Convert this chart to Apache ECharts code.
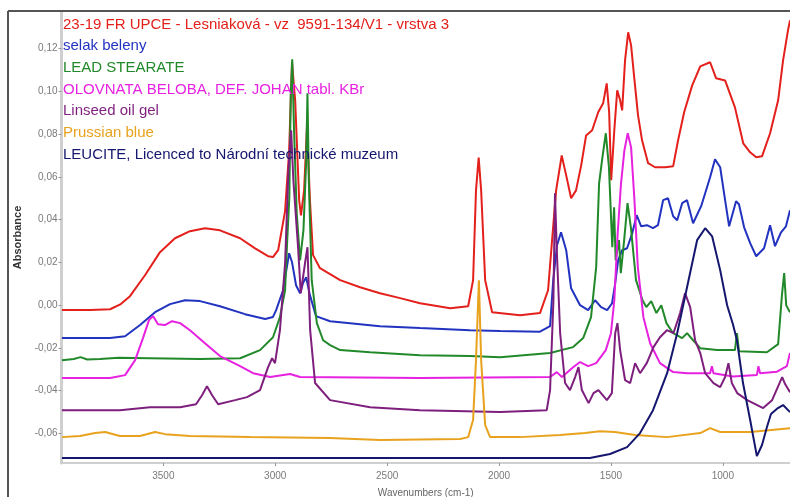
<!DOCTYPE html>
<html>
<head>
<meta charset="utf-8">
<script src="https://cdn.jsdelivr.net/npm/echarts@6/dist/echarts.min.js"></script>
<style>
html,body{margin:0;padding:0;background:#fff;}
#chart{width:790px;height:497px;}
</style>
</head>
<body>
<div id="chart"></div>
<script>
// ---- data: [wavenumber (cm-1), absorbance] ----
const seriesNames = [
  '23-19 FR UPCE - Lesniaková - vz  9591-134/V1 - vrstva 3',
  'selak beleny',
  'LEAD STEARATE',
  'OLOVNATA BELOBA, DEF. JOHAN tabl. KBr',
  'Linseed oil gel',
  'Prussian blue',
  'LEUCITE, Licenced to Národní technické muzeum'
];
const seriesColors = ['#e3201b', '#2233c0', '#22892a', '#e622e0', '#7e1f7e', '#e8a21e', '#15166e'];

const redSpectrum = [[3953,-0.0023],[3828,-0.0023],[3738,-0.0019],[3690,0.0005],[3649,0.0042],[3582,0.014],[3515,0.0248],[3448,0.0313],[3381,0.0346],[3314,0.036],[3247,0.035],[3157,0.0313],[3090,0.0266],[3032,0.0229],[3010,0.0225],[2987,0.0257],[2956,0.044],[2938,0.072],[2925,0.1136],[2911,0.0958],[2893,0.049],[2885,0.042],[2871,0.0537],[2858,0.084],[2845,0.049],[2831,0.0234],[2800,0.0173],[2710,0.0117],[2621,0.0084],[2532,0.0056],[2442,0.0033],[2353,0.0009],[2218,-0.0014],[2138,-0.0005],[2116,0.0117],[2103,0.0537],[2091,0.069],[2080,0.0537],[2062,0.0117],[2031,-0.0033],[1906,-0.0047],[1817,-0.0037],[1781,0.007],[1763,0.0304],[1745,0.0537],[1720,0.07],[1700,0.0607],[1678,0.05],[1656,0.0537],[1633,0.0654],[1611,0.0794],[1584,0.0818],[1557,0.0902],[1535,0.0944],[1519,0.1037],[1508,0.0902],[1499,0.0584],[1485,0.0818],[1472,0.1005],[1459,0.0958],[1450,0.0911],[1437,0.1145],[1423,0.1276],[1410,0.1215],[1397,0.1075],[1379,0.0888],[1361,0.0771],[1334,0.0664],[1303,0.0645],[1258,0.0645],[1222,0.065],[1200,0.0771],[1173,0.0902],[1137,0.1028],[1101,0.1117],[1057,0.1136],[1030,0.1061],[990,0.1051],[946,0.0925],[909,0.0757],[878,0.0715],[851,0.0692],[825,0.0696],[789,0.0804],[753,0.0958],[731,0.1145],[709,0.1285],[700,0.1332]];

const blueSpectrum = [[3953,-0.0154],[3738,-0.0154],[3671,-0.0145],[3604,-0.0093],[3537,-0.0033],[3470,0.0005],[3403,0.0023],[3336,0.0019],[3247,-0.0005],[3135,-0.0042],[3045,-0.0065],[3010,-0.0055],[2996,-0.0023],[2965,0.007],[2938,0.0243],[2925,0.0201],[2907,0.0093],[2889,0.0056],[2876,0.0103],[2862,0.0131],[2845,0.0047],[2818,-0.0051],[2755,-0.0075],[2532,-0.0098],[2353,-0.0107],[2130,-0.0117],[1995,-0.0121],[1817,-0.0124],[1772,-0.0098],[1758,0.0117],[1741,0.028],[1723,0.0341],[1700,0.0257],[1678,0.0079],[1638,0],[1602,-0.0023],[1571,0.0023],[1544,-0.0009],[1517,-0.0023],[1495,0.0009],[1481,0.0103],[1468,0.021],[1450,0.0257],[1428,0.0266],[1405,0.0336],[1385,0.0421],[1365,0.0369],[1339,0.0374],[1312,0.036],[1290,0.0374],[1267,0.0491],[1245,0.05],[1222,0.0416],[1204,0.0397],[1182,0.0477],[1160,0.0491],[1133,0.0383],[1097,0.0463],[1057,0.0598],[1035,0.0682],[1012,0.0645],[990,0.0491],[972,0.0369],[941,0.0486],[928,0.0472],[905,0.0364],[878,0.029],[851,0.0229],[816,0.0266],[789,0.0374],[767,0.0276],[740,0.0341],[718,0.0369],[700,0.0444]];

const greenSpectrum = [[3953,-0.0257],[3900,-0.0252],[3870,-0.0243],[3840,-0.0254],[3783,-0.0252],[3700,-0.0246],[3560,-0.0248],[3336,-0.0252],[3157,-0.0248],[3068,-0.021],[3010,-0.015],[2979,-0.0056],[2956,0.007],[2947,0.029],[2937,0.0505],[2931,0.0972],[2924,0.115],[2916,0.0818],[2904,0.043],[2889,0.021],[2874,0.035],[2862,0.0664],[2856,0.0991],[2850,0.0584],[2837,0.0117],[2814,-0.0084],[2786,-0.0164],[2755,-0.0187],[2710,-0.021],[2576,-0.022],[2353,-0.0234],[2130,-0.0238],[1995,-0.0243],[1772,-0.0224],[1669,-0.0196],[1624,-0.0154],[1589,-0.0056],[1566,0.0178],[1553,0.057],[1538,0.0692],[1523,0.0804],[1509,0.0645],[1494,0.0271],[1486,0.0458],[1479,0.021],[1464,0.0304],[1456,0.015],[1441,0.0304],[1426,0.0477],[1411,0.0364],[1388,0.0117],[1359,0.0023],[1342,-0.0009],[1320,0.0019],[1297,-0.0037],[1275,0],[1252,-0.0084],[1222,-0.0131],[1182,-0.0154],[1160,-0.0131],[1133,-0.0164],[1101,-0.0201],[1026,-0.021],[946,-0.021],[937,-0.0131],[928,-0.0215],[803,-0.022],[753,-0.0182],[736,0.0047],[726,0.015],[717,0],[700,-0.0033]];

const magentaSpectrum = [[3953,-0.0341],[3738,-0.0341],[3671,-0.0327],[3626,-0.0257],[3591,-0.0154],[3564,-0.007],[3546,-0.0051],[3524,-0.0089],[3493,-0.0093],[3461,-0.0075],[3425,-0.0084],[3381,-0.0117],[3314,-0.0178],[3247,-0.0238],[3157,-0.0285],[3099,-0.0318],[3023,-0.0336],[2934,-0.0322],[2889,-0.0336],[2353,-0.0341],[1772,-0.0336],[1742,-0.0313],[1719,-0.0336],[1669,-0.029],[1638,-0.0266],[1602,-0.0285],[1566,-0.0271],[1523,-0.021],[1500,-0.0131],[1485,0.0023],[1470,0.0336],[1455,0.057],[1440,0.0724],[1425,0.0804],[1410,0.0738],[1395,0.0491],[1380,0.0178],[1355,-0.0056],[1325,-0.0178],[1281,-0.0271],[1222,-0.0313],[1160,-0.0318],[1057,-0.0318],[1049,-0.0285],[1042,-0.0318],[955,-0.0334],[848,-0.0327],[841,-0.0285],[834,-0.0318],[758,-0.0311],[714,-0.0285],[700,-0.0224]];

const purpleSpectrum = [[3953,-0.0491],[3694,-0.0491],[3560,-0.0477],[3425,-0.0477],[3354,-0.0463],[3327,-0.0421],[3305,-0.0379],[3282,-0.0421],[3255,-0.0463],[3179,-0.0444],[3126,-0.043],[3068,-0.0397],[3032,-0.029],[3014,-0.0248],[3001,-0.0271],[2979,-0.0117],[2956,0.0196],[2941,0.0631],[2929,0.0818],[2919,0.0584],[2898,0.0271],[2886,0.0056],[2867,0.0196],[2856,0.0271],[2844,-0.0117],[2822,-0.0364],[2755,-0.0444],[2576,-0.0477],[2353,-0.0491],[1995,-0.05],[1787,-0.0491],[1772,-0.0397],[1757,0.0023],[1750,0.0523],[1742,0.0257],[1727,-0.0131],[1705,-0.0364],[1683,-0.0397],[1660,-0.0336],[1645,-0.029],[1630,-0.0397],[1600,-0.0458],[1578,-0.0411],[1556,-0.0397],[1518,-0.0444],[1496,-0.0411],[1481,-0.0131],[1471,-0.0084],[1459,-0.021],[1437,-0.035],[1414,-0.0364],[1392,-0.0271],[1370,-0.0318],[1340,-0.0271],[1310,-0.0196],[1281,-0.015],[1250,-0.0117],[1221,-0.0131],[1191,-0.0037],[1169,0.0056],[1146,-0.0009],[1124,-0.0164],[1101,-0.0224],[1079,-0.0318],[1042,-0.0364],[1012,-0.0383],[990,-0.0336],[975,-0.0271],[960,-0.0364],[936,-0.0411],[891,-0.0444],[820,-0.0481],[780,-0.0444],[735,-0.0336],[722,-0.0369],[700,-0.0407]];

const orangeSpectrum = [[3953,-0.0617],[3872,-0.0612],[3805,-0.0598],[3760,-0.0593],[3694,-0.0612],[3604,-0.0612],[3537,-0.0593],[3492,-0.0603],[3381,-0.0612],[3113,-0.0617],[2755,-0.0621],[2532,-0.0631],[2174,-0.0626],[2138,-0.0617],[2116,-0.0537],[2103,-0.0257],[2090,0.0117],[2080,-0.0257],[2062,-0.0561],[2040,-0.0617],[1906,-0.0617],[1728,-0.0607],[1616,-0.0598],[1549,-0.0589],[1482,-0.0593],[1392,-0.0607],[1250,-0.0617],[1101,-0.0598],[1057,-0.0575],[1012,-0.0593],[878,-0.0593],[700,-0.0575]];

const navySpectrum = [[3953,-0.0715],[1594,-0.0715],[1504,-0.0696],[1428,-0.0664],[1370,-0.0598],[1312,-0.0491],[1249,-0.0318],[1204,-0.0131],[1160,0.0084],[1115,0.0304],[1079,0.036],[1048,0.0322],[1012,0.0164],[981,0],[955,-0.0089],[937,-0.0164],[910,-0.0364],[878,-0.0537],[848,-0.0706],[825,-0.0654],[803,-0.057],[785,-0.0509],[754,-0.0481],[731,-0.0467],[700,-0.05]];

const spectra = [redSpectrum, blueSpectrum, greenSpectrum, magentaSpectrum, purpleSpectrum, orangeSpectrum, navySpectrum];

const xMin = 700, xMax = 3955;
const yMin = -0.0738, yMax = 0.1371;

const chart = echarts.init(document.getElementById('chart'));
const font = 'Liberation Sans, Arial, sans-serif';

const option = {
  animation: false,
  backgroundColor: '#ffffff',
  textStyle: { fontFamily: font },
  grid: { left: 61.5, right: 0, top: 12, bottom: 34, containLabel: false, outerBoundsMode: 'none' },
  legend: {
    orient: 'vertical',
    left: 53,
    top: 12,
    itemWidth: 0,
    itemHeight: 0,
    itemGap: 6.7,
    selectedMode: false,
    textStyle: { fontFamily: font, fontSize: 15, lineHeight: 15 },
    data: seriesNames.map((n, i) => ({ name: n, icon: 'rect', textStyle: { color: seriesColors[i] } }))
  },
  xAxis: {
    type: 'value',
    inverse: true,
    min: xMin,
    max: xMax,
    splitNumber: 6,
    name: 'Wavenumbers (cm-1)',
    nameLocation: 'middle',
    nameGap: 25,
    nameTextStyle: { color: '#666666', fontSize: 10, fontFamily: font },
    axisLine: { show: true, onZero: false, lineStyle: { color: '#cfcfcf', width: 2 } },
    axisTick: { show: true, length: 3, lineStyle: { color: '#999999' } },
    axisLabel: { color: '#7a7a7a', fontSize: 10, margin: 8, showMinLabel: false, showMaxLabel: false,
      formatter: v => String(Math.round(v)) },
    splitLine: { show: false }
  },
  yAxis: {
    type: 'value',
    min: yMin,
    max: yMax,
    splitNumber: 10,
    name: 'Absorbance',
    nameLocation: 'middle',
    nameGap: 37,
    nameRotate: 90,
    nameTextStyle: { color: '#333333', fontSize: 11, fontWeight: 'bold', fontFamily: font },
    axisLine: { show: true, onZero: false, lineStyle: { color: '#cfcfcf', width: 3 } },
    axisTick: { show: true, length: 3, lineStyle: { color: '#999999' } },
    axisLabel: {
      color: '#7a7a7a', fontSize: 10, margin: 4, showMinLabel: false, showMaxLabel: false,
      formatter: v => v.toFixed(2).replace('.', ',')
    },
    splitLine: { show: false }
  },
  graphic: [
    { type: 'line', shape: { x1: 8, y1: 11, x2: 800, y2: 11 }, style: { stroke: '#555555', lineWidth: 2 }, z: 100 },
    { type: 'line', shape: { x1: 8, y1: 11, x2: 8, y2: 510 }, style: { stroke: '#555555', lineWidth: 2 }, z: 100 }
  ],
  series: spectra.map((d, i) => ({
    name: seriesNames[i],
    type: 'line',
    data: d,
    showSymbol: false,
    smooth: false,
    color: seriesColors[i],
    lineStyle: { width: 2, color: seriesColors[i] },
    clip: true
  }))
};
chart.setOption(option);
</script>
</body>
</html>
